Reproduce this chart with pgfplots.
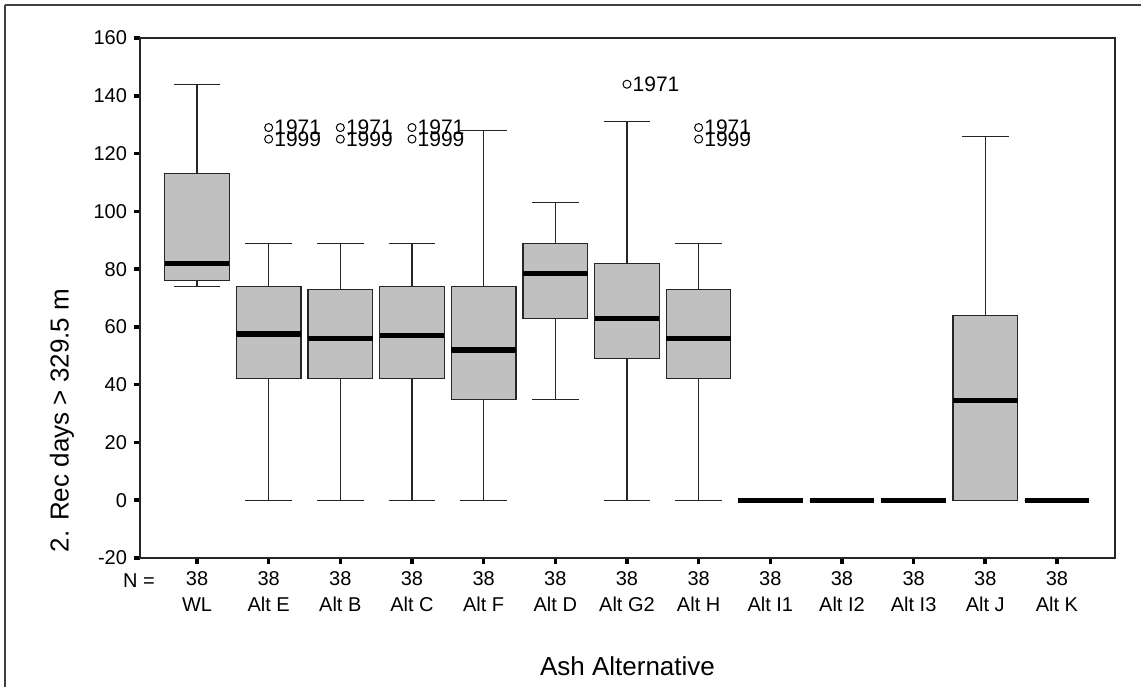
\documentclass[border=0pt]{standalone}
\usepackage{fontspec}
\setmainfont{Liberation Sans}
\usepackage{pgfplots}
\pgfplotsset{compat=1.18}
\usepgfplotslibrary{statistics}
\definecolor{boxgray}{HTML}{C0C0C0}
\begin{document}
\begin{tikzpicture}
\begin{axis}[
  at={(0,0)}, anchor=south west,
  scale only axis, width=487.5pt, height=260pt,
  xmin=-0.7955, xmax=12.81, ymin=-20, ymax=160,
  xtick={0,1,2,3,4,5,6,7,8,9,10,11,12},
  xticklabels={{38\\WL},{38\\Alt E},{38\\Alt B},{38\\Alt C},{38\\Alt F},{38\\Alt D},{38\\Alt G2},{38\\Alt H},{38\\Alt I1},{38\\Alt I2},{38\\Alt I3},{38\\Alt J},{38\\Alt K}},
  xticklabel style={align=center},
  ytick={-20,0,20,40,60,80,100,120,140,160},
  tick pos=left,
  tick align=outside, major tick length=3pt,
  tick style={line width=1.8pt, black},
  axis line style={line width=0.8pt, black!85},
  /pgf/number format/assume math mode=true,
  tick label style={font=\fontsize{10}{13}\selectfont, text=black},
  xlabel={Ash Alternative}, ylabel={2. Rec days > 329.5 m},
  every axis x label/.style={at={(axis description cs:0.5,-0.225)}, anchor=base, font=\fontsize{13}{15}\selectfont},
  every axis y label/.style={at={(axis description cs:-0.08,0.2644)}, rotate=90, anchor=center, font=\fontsize{13}{15}\selectfont},
  clip=false,
  boxplot/draw direction=y,
  boxplot/box extend=0.9,
  boxplot/whisker extend=0.65,
  boxplot/every box/.style={fill=boxgray, draw=black!85, line width=0.6pt},
  boxplot/every whisker/.style={draw=black!85, line width=0.6pt},
  boxplot/every median/.style={draw=black, line width=2.7pt},
]
% WL
\addplot[boxplot prepared={draw position=0, lower whisker=74, lower quartile=76, median=82, upper quartile=113, upper whisker=144}] coordinates {};
% Alt E
\addplot[boxplot prepared={draw position=1, lower whisker=0, lower quartile=42, median=57.5, upper quartile=74, upper whisker=89}] coordinates {};
% Alt B
\addplot[boxplot prepared={draw position=2, lower whisker=0, lower quartile=42, median=56, upper quartile=73, upper whisker=89}] coordinates {};
% Alt C
\addplot[boxplot prepared={draw position=3, lower whisker=0, lower quartile=42, median=57, upper quartile=74, upper whisker=89}] coordinates {};
% Alt F
\addplot[boxplot prepared={draw position=4, lower whisker=0, lower quartile=35, median=52, upper quartile=74, upper whisker=128}] coordinates {};
% Alt D
\addplot[boxplot prepared={draw position=5, lower whisker=35, lower quartile=63, median=78.5, upper quartile=89, upper whisker=103}] coordinates {};
% Alt G2
\addplot[boxplot prepared={draw position=6, lower whisker=0, lower quartile=49, median=63, upper quartile=82, upper whisker=131}] coordinates {};
% Alt H
\addplot[boxplot prepared={draw position=7, lower whisker=0, lower quartile=42, median=56, upper quartile=73, upper whisker=89}] coordinates {};
% Alt I1
\addplot[boxplot prepared={draw position=8, lower whisker=0, lower quartile=0, median=0, upper quartile=0, upper whisker=0}] coordinates {};
% Alt I2
\addplot[boxplot prepared={draw position=9, lower whisker=0, lower quartile=0, median=0, upper quartile=0, upper whisker=0}] coordinates {};
% Alt I3
\addplot[boxplot prepared={draw position=10, lower whisker=0, lower quartile=0, median=0, upper quartile=0, upper whisker=0}] coordinates {};
% Alt J
\addplot[boxplot prepared={draw position=11, lower whisker=0, lower quartile=0, median=34.5, upper quartile=64, upper whisker=126}] coordinates {};
% Alt K
\addplot[boxplot prepared={draw position=12, lower whisker=0, lower quartile=0, median=0, upper quartile=0, upper whisker=0}] coordinates {};
% outliers
\addplot[only marks, mark=o, mark size=2pt, mark options={line width=0.5pt, black},
  point meta=explicit symbolic, nodes near coords,
  every node near coord/.style={anchor=west, inner sep=0pt, xshift=2.6pt, font=\fontsize{10.5}{12}\selectfont, text=black}]
  coordinates {(1,129)[1971] (1,125)[1999] (2,129)[1971] (2,125)[1999] (3,129)[1971] (3,125)[1999] (6,144)[1971] (7,129)[1971] (7,125)[1999]};
\end{axis}
\node[anchor=base, font=\fontsize{10}{13}\selectfont] at (-0.5pt,-14.5pt) {N =};
\draw[line width=1pt, black!75] (-67.5pt,276.5pt) -- (500.5pt,276.5pt);
\draw[line width=1pt, black!75] (-67.5pt,276.5pt) -- (-67.5pt,-64.5pt);
\pgfresetboundingbox
\useasboundingbox (-70pt,-64.5pt) rectangle (500.5pt,279pt);
\end{tikzpicture}
\end{document}
